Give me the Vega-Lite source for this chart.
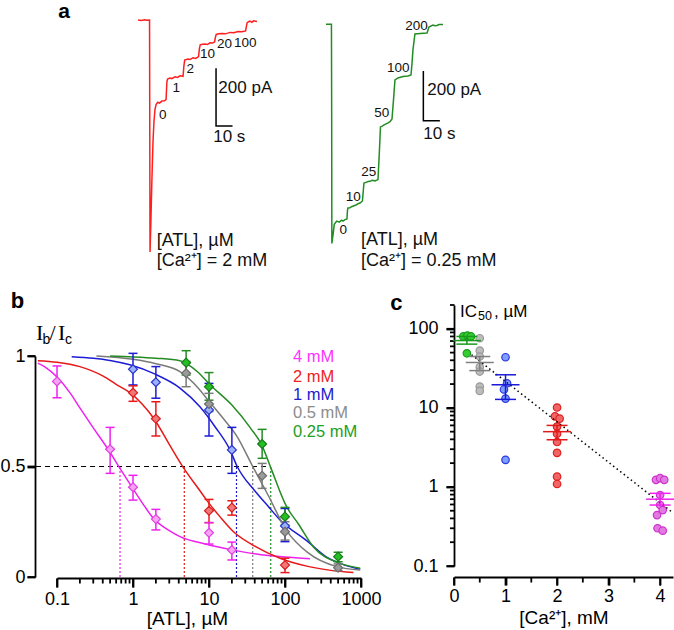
{
"$schema": "https://vega.github.io/schema/vega-lite/v6.json",
"width": 674, "height": 630, "padding": 0, "autosize": {"type": "none"},
"background": "white",
"config": {
  "view": {"stroke": null},
  "font": "Liberation Sans",
  "axis": {"grid": false, "ticks": true, "domainColor": "#000", "domainWidth": 1.8, "tickColor": "#000", "tickWidth": 1.8, "tickOpacity": 1, "labelColor": "#000", "labelFont": "Liberation Sans", "labelFontSize": 18, "titleFont": "Liberation Sans", "titleFontSize": 19, "titleFontWeight": "normal", "titleColor": "#000", "labelOverlap": false, "labelBound": false, "labelFlush": false},
  "text": {"font": "Liberation Sans", "color": "#111"}
},
"datasets": {
  "redTrace": [
    {"t":0,"I":0},{"t":2,"I":-2},{"t":4,"I":1},{"t":5.5,"I":-1},{"t":7,"I":0},{"t":7.3,"I":-804},{"t":7.8,"I":-700},{"t":8.4,"I":-560},{"t":9.1,"I":-420},{"t":9.7,"I":-350},{"t":10.3,"I":-310},{"t":11,"I":-292},{"t":12,"I":-285},{"t":13,"I":-288},{"t":14.5,"I":-281},{"t":16,"I":-280},{"t":17,"I":-276},{"t":17.5,"I":-215},{"t":17.9,"I":-205},{"t":19.4,"I":-201},{"t":20.5,"I":-203},{"t":22.4,"I":-197},{"t":24,"I":-199},{"t":25.5,"I":-193},{"t":27.3,"I":-195},{"t":27.8,"I":-160},{"t":28.3,"I":-139},{"t":30.3,"I":-135},{"t":31.5,"I":-137},{"t":33.3,"I":-131},{"t":35,"I":-133},{"t":36.7,"I":-127},{"t":37.2,"I":-100},{"t":37.7,"I":-86},{"t":39,"I":-84},{"t":40.6,"I":-83},{"t":42,"I":-85},{"t":43.6,"I":-79},{"t":45,"I":-80},{"t":46.4,"I":-76},{"t":46.9,"I":-60},{"t":47.4,"I":-50},{"t":49,"I":-48},{"t":50.9,"I":-47},{"t":53,"I":-48},{"t":55.8,"I":-43},{"t":58,"I":-44},{"t":60.6,"I":-40},{"t":63,"I":-41},{"t":65.2,"I":-38},{"t":65.7,"I":-22},{"t":66.1,"I":-10},{"t":67,"I":-6},{"t":67.9,"I":-4},{"t":69,"I":-8},{"t":70,"I":-3},{"t":72.1,"I":-5}
  ],
  "greenTrace": [
    {"t":0,"I":0},{"t":3.3,"I":0},{"t":3.45,"I":-400},{"t":3.55,"I":-882},{"t":4.3,"I":-845},{"t":5.0,"I":-805},{"t":6.5,"I":-792},{"t":8,"I":-796},{"t":9.5,"I":-788},{"t":10.3,"I":-792},{"t":11.5,"I":-786},{"t":12.7,"I":-783},{"t":13.0,"I":-750},{"t":13.3,"I":-739},{"t":14.5,"I":-738},{"t":15.8,"I":-733},{"t":17,"I":-730},{"t":18.2,"I":-727},{"t":19.4,"I":-722},{"t":20.6,"I":-719},{"t":22.1,"I":-711},{"t":22.6,"I":-670},{"t":23.0,"I":-639},{"t":24.2,"I":-636},{"t":25.5,"I":-633},{"t":26.7,"I":-632},{"t":27.9,"I":-628},{"t":29.7,"I":-630},{"t":31.5,"I":-625},{"t":32.0,"I":-560},{"t":32.4,"I":-506},{"t":33.0,"I":-413},{"t":34.1,"I":-410},{"t":35.2,"I":-405},{"t":36.4,"I":-401},{"t":37.6,"I":-397},{"t":38.8,"I":-392},{"t":40.0,"I":-381},{"t":40.9,"I":-305},{"t":41.8,"I":-224},{"t":43.6,"I":-216},{"t":45.1,"I":-213},{"t":46.7,"I":-210},{"t":48.2,"I":-209},{"t":49.7,"I":-208},{"t":51.5,"I":-204},{"t":52.1,"I":-160},{"t":52.7,"I":-103},{"t":53.9,"I":-39},{"t":55.5,"I":-38},{"t":57.0,"I":-37},{"t":59.1,"I":-36},{"t":61.2,"I":-35},{"t":62.4,"I":-11},{"t":64.8,"I":-3},{"t":66,"I":-6},{"t":67.3,"I":-5},{"t":68.5,"I":-1},{"t":70.9,"I":-1}
  ],
  "redBar": [{"t":47.3,"I":-167,"k":1},{"t":47.3,"I":-367,"k":2},{"t":57.3,"I":-367,"k":3}],
  "greenBar": [{"t":59.0,"I":-188,"k":1},{"t":59.0,"I":-388,"k":2},{"t":69.0,"I":-388,"k":3}],
  "redLabels": [{"t":15.0,"I":-328,"label":"0"},{"t":23.2,"I":-236,"label":"1"},{"t":31.7,"I":-171,"label":"2"},{"t":42.2,"I":-119,"label":"10"},{"t":52.4,"I":-82,"label":"20"},{"t":65.0,"I":-81,"label":"100"}],
  "greenLabels": [{"t":10.5,"I":-828,"label":"0"},{"t":16.5,"I":-696,"label":"10"},{"t":25.9,"I":-596,"label":"25"},{"t":33.8,"I":-358,"label":"50"},{"t":43.8,"I":-177,"label":"100"},{"t":54.9,"I":-7,"label":"200"}],
  "redScaleText": [{"t":48.7,"I":-237,"label":"200 pA"},{"t":45.6,"I":-404,"label":"10 s"}],
  "greenScaleText": [{"t":61.4,"I":-265,"label":"200 pA"},{"t":59.0,"I":-442,"label":"10 s"}],
  "redCondText": [{"t":11.3,"I":-765,"label":"[ATL], µM"},{"t":11.3,"I":-834,"label":"[Ca²⁺] = 2 mM"}],
  "greenCondText": [{"t":21.2,"I":-868,"label":"[ATL], µM"},{"t":21.2,"I":-952,"label":"[Ca²⁺] = 0.25 mM"}],
  "bxMajor": [{"v":0.1},{"v":1},{"v":10},{"v":100},{"v":1000}],
  "bxMinor": [{"v":0.2},{"v":0.3},{"v":0.4},{"v":0.5},{"v":0.6},{"v":0.7},{"v":0.8},{"v":0.9},{"v":2},{"v":3},{"v":4},{"v":5},{"v":6},{"v":7},{"v":8},{"v":9},{"v":20},{"v":30},{"v":40},{"v":50},{"v":60},{"v":70},{"v":80},{"v":90},{"v":200},{"v":300},{"v":400},{"v":500},{"v":600},{"v":700},{"v":800},{"v":900}],
  "byTicks": [{"v":0},{"v":0.5},{"v":1}],
  "cxMajor": [{"v":0},{"v":1},{"v":2},{"v":3},{"v":4}],
  "cxMinor": [{"v":0.5},{"v":1.5},{"v":2.5},{"v":3.5}],
  "cyMajor": [{"v":0.1},{"v":1},{"v":10},{"v":100}],
  "cyMinor": [{"v":0.2},{"v":0.3},{"v":0.4},{"v":0.5},{"v":0.6},{"v":0.7},{"v":0.8},{"v":0.9},{"v":2},{"v":3},{"v":4},{"v":5},{"v":6},{"v":7},{"v":8},{"v":9},{"v":20},{"v":30},{"v":40},{"v":50},{"v":60},{"v":70},{"v":80},{"v":90},{"v":200}],
  "bCurves": [
    {"series":"4 mM","x":0.056,"y":0.968},{"series":"4 mM","x":0.07,"y":0.95},{"series":"4 mM","x":0.1,"y":0.905},{"series":"4 mM","x":0.15,"y":0.831},{"series":"4 mM","x":0.2,"y":0.765},{"series":"4 mM","x":0.3,"y":0.675},{"series":"4 mM","x":0.47,"y":0.578},{"series":"4 mM","x":0.67,"y":0.493},{"series":"4 mM","x":0.96,"y":0.409},{"series":"4 mM","x":1.4,"y":0.323},{"series":"4 mM","x":1.89,"y":0.262},{"series":"4 mM","x":3,"y":0.21},{"series":"4 mM","x":4.15,"y":0.183},{"series":"4 mM","x":7,"y":0.158},{"series":"4 mM","x":10,"y":0.145},{"series":"4 mM","x":18.9,"y":0.125},{"series":"4 mM","x":40,"y":0.105},{"series":"4 mM","x":100,"y":0.09},{"series":"4 mM","x":213,"y":0.083},
    {"series":"2 mM","x":0.056,"y":0.979},{"series":"2 mM","x":0.1,"y":0.972},{"series":"2 mM","x":0.2,"y":0.952},{"series":"2 mM","x":0.4,"y":0.91},{"series":"2 mM","x":0.6,"y":0.872},{"series":"2 mM","x":0.91,"y":0.834},{"series":"2 mM","x":1.3,"y":0.785},{"series":"2 mM","x":1.89,"y":0.716},{"series":"2 mM","x":3,"y":0.6},{"series":"2 mM","x":4.6,"y":0.495},{"series":"2 mM","x":7.6,"y":0.39},{"series":"2 mM","x":9.3,"y":0.348},{"series":"2 mM","x":14,"y":0.272},{"series":"2 mM","x":21,"y":0.205},{"series":"2 mM","x":40,"y":0.14},{"series":"2 mM","x":86,"y":0.085},{"series":"2 mM","x":200,"y":0.048},{"series":"2 mM","x":400,"y":0.03},{"series":"2 mM","x":795,"y":0.02},
    {"series":"1 mM","x":0.156,"y":0.997},{"series":"1 mM","x":0.3,"y":0.99},{"series":"1 mM","x":0.5,"y":0.98},{"series":"1 mM","x":0.91,"y":0.96},{"series":"1 mM","x":1.89,"y":0.92},{"series":"1 mM","x":4.15,"y":0.855},{"series":"1 mM","x":7.6,"y":0.77},{"series":"1 mM","x":12,"y":0.68},{"series":"1 mM","x":18.9,"y":0.575},{"series":"1 mM","x":23.5,"y":0.5},{"series":"1 mM","x":40,"y":0.39},{"series":"1 mM","x":60,"y":0.32},{"series":"1 mM","x":86,"y":0.258},{"series":"1 mM","x":200,"y":0.16},{"series":"1 mM","x":353,"y":0.09},{"series":"1 mM","x":600,"y":0.055},{"series":"1 mM","x":977,"y":0.035},
    {"series":"0.5 mM","x":0.33,"y":1.0},{"series":"0.5 mM","x":1,"y":0.985},{"series":"0.5 mM","x":2,"y":0.965},{"series":"0.5 mM","x":4.15,"y":0.929},{"series":"0.5 mM","x":7,"y":0.86},{"series":"0.5 mM","x":10.3,"y":0.79},{"series":"0.5 mM","x":16,"y":0.71},{"series":"0.5 mM","x":23,"y":0.64},{"series":"0.5 mM","x":37.6,"y":0.5},{"series":"0.5 mM","x":60,"y":0.37},{"series":"0.5 mM","x":105,"y":0.21},{"series":"0.5 mM","x":200,"y":0.11},{"series":"0.5 mM","x":479,"y":0.047},{"series":"0.5 mM","x":977,"y":0.032},
    {"series":"0.25 mM","x":0.5,"y":1.0},{"series":"0.25 mM","x":1,"y":0.996},{"series":"0.25 mM","x":2,"y":0.99},{"series":"0.25 mM","x":4.15,"y":0.979},{"series":"0.25 mM","x":7,"y":0.93},{"series":"0.25 mM","x":10.3,"y":0.87},{"series":"0.25 mM","x":20,"y":0.778},{"series":"0.25 mM","x":35,"y":0.675},{"series":"0.25 mM","x":49,"y":0.6},{"series":"0.25 mM","x":64.9,"y":0.495},{"series":"0.25 mM","x":105,"y":0.318},{"series":"0.25 mM","x":150,"y":0.24},{"series":"0.25 mM","x":235,"y":0.137},{"series":"0.25 mM","x":500,"y":0.065},{"series":"0.25 mM","x":977,"y":0.04}
  ],
  "bIC50": [{"series":"4 mM","ic":0.675},{"series":"2 mM","ic":4.73},{"series":"1 mM","ic":23},{"series":"0.5 mM","ic":37.6},{"series":"0.25 mM","ic":64.9}],
  "bPoints": [
    {"series":"4 mM","x":0.1,"y":0.885,"lo":0.811,"hi":0.955},{"series":"4 mM","x":0.5,"y":0.578,"lo":0.469,"hi":0.677},{"series":"4 mM","x":1,"y":0.406,"lo":0.348,"hi":0.46},{"series":"4 mM","x":2,"y":0.262,"lo":0.213,"hi":0.306},{"series":"4 mM","x":10,"y":0.2,"lo":0.149,"hi":0.246},{"series":"4 mM","x":20,"y":0.122,"lo":0.077,"hi":0.158},
    {"series":"2 mM","x":1,"y":0.834,"lo":0.795,"hi":0.865},{"series":"2 mM","x":2,"y":0.716,"lo":0.638,"hi":0.793},{"series":"2 mM","x":10,"y":0.3,"lo":0.246,"hi":0.351},{"series":"2 mM","x":20,"y":0.314,"lo":0.28,"hi":0.345},{"series":"2 mM","x":100,"y":0.054,"lo":0.02,"hi":0.085},
    {"series":"1 mM","x":1,"y":0.94,"lo":0.869,"hi":1.012},{"series":"1 mM","x":2,"y":0.881,"lo":0.809,"hi":0.952},{"series":"1 mM","x":10,"y":0.756,"lo":0.638,"hi":0.876},{"series":"1 mM","x":20,"y":0.575,"lo":0.469,"hi":0.677},{"series":"1 mM","x":100,"y":0.231,"lo":0.16,"hi":0.31},
    {"series":"0.5 mM","x":5,"y":0.922,"lo":0.861,"hi":0.975},{"series":"0.5 mM","x":10,"y":0.783,"lo":0.748,"hi":0.831},{"series":"0.5 mM","x":50,"y":0.458,"lo":0.401,"hi":0.514},{"series":"0.5 mM","x":100,"y":0.205,"lo":0.167,"hi":0.25},{"series":"0.5 mM","x":500,"y":0.042,"lo":0.029,"hi":0.059},
    {"series":"0.25 mM","x":5,"y":0.97,"lo":0.914,"hi":1.024},{"series":"0.25 mM","x":10,"y":0.861,"lo":0.8,"hi":0.925},{"series":"0.25 mM","x":50,"y":0.602,"lo":0.537,"hi":0.668},{"series":"0.25 mM","x":100,"y":0.273,"lo":0.235,"hi":0.315},{"series":"0.25 mM","x":500,"y":0.092,"lo":0.069,"hi":0.112}
  ],
  "cPoints": [
    {"series":"0.25 mM","ca":0.18,"ic50":80},{"series":"0.25 mM","ca":0.26,"ic50":82},{"series":"0.25 mM","ca":0.33,"ic50":80},{"series":"0.25 mM","ca":0.25,"ic50":49},
    {"series":"0.5 mM","ca":0.5,"ic50":76},{"series":"0.5 mM","ca":0.5,"ic50":53},{"series":"0.5 mM","ca":0.5,"ic50":44.6},{"series":"0.5 mM","ca":0.5,"ic50":32.7},{"series":"0.5 mM","ca":0.5,"ic50":28.8},{"series":"0.5 mM","ca":0.5,"ic50":18.6},{"series":"0.5 mM","ca":0.5,"ic50":16.4},
    {"series":"1 mM","ca":1.0,"ic50":43.7},{"series":"1 mM","ca":1.03,"ic50":20.4},{"series":"1 mM","ca":0.97,"ic50":17.1},{"series":"1 mM","ca":1.0,"ic50":13.1},{"series":"1 mM","ca":1.0,"ic50":2.2},
    {"series":"2 mM","ca":2.0,"ic50":10.1},{"series":"2 mM","ca":1.96,"ic50":7.8},{"series":"2 mM","ca":2.05,"ic50":7.3},{"series":"2 mM","ca":2.0,"ic50":5.8},{"series":"2 mM","ca":2.0,"ic50":4.7},{"series":"2 mM","ca":2.0,"ic50":3.7},{"series":"2 mM","ca":2.0,"ic50":2.7},{"series":"2 mM","ca":2.0,"ic50":1.35},{"series":"2 mM","ca":2.0,"ic50":1.09},
    {"series":"4 mM","ca":3.92,"ic50":1.23},{"series":"4 mM","ca":4.0,"ic50":1.29},{"series":"4 mM","ca":4.08,"ic50":1.23},{"series":"4 mM","ca":4.0,"ic50":0.79},{"series":"4 mM","ca":4.0,"ic50":0.59},{"series":"4 mM","ca":3.94,"ic50":0.44},{"series":"4 mM","ca":4.05,"ic50":0.51},{"series":"4 mM","ca":3.95,"ic50":0.3},{"series":"4 mM","ca":4.05,"ic50":0.28}
  ],
  "cMeans": [
    {"series":"0.25 mM","ca":0.25,"mean":71,"lo":64,"hi":80},
    {"series":"0.5 mM","ca":0.5,"mean":37.5,"lo":29.6,"hi":44.6},
    {"series":"1 mM","ca":1,"mean":19.6,"lo":12.8,"hi":26.2},
    {"series":"2 mM","ca":2,"mean":5.0,"lo":3.95,"hi":6.0},
    {"series":"4 mM","ca":4,"mean":0.7,"lo":0.59,"hi":0.83}
  ],
  "cFit": [{"ca":0.34,"ic50":47},{"ca":4.25,"ic50":0.47}]
},
"layer": [
    {"data":{"name":"redTrace"},"mark":{"type":"line","color":"#ff1f1f","strokeWidth":1.5},
     "encoding":{"x":{"field":"t","type":"quantitative","scale":{"type":"linear","domain":[0,100],"range":[138,303],"nice":false,"zero":false},"axis":null},
                 "y":{"field":"I","type":"quantitative","scale":{"type":"linear","domain":[-1000,0],"range":[308.5,20],"nice":false,"zero":false},"axis":null}}},
    {"data":{"name":"redBar"},"mark":{"type":"line","color":"#000","strokeWidth":1.5},
     "encoding":{"x":{"field":"t","type":"quantitative","scale":{"type":"linear","domain":[0,100],"range":[138,303],"nice":false,"zero":false},"axis":null},
                 "y":{"field":"I","type":"quantitative","scale":{"type":"linear","domain":[-1000,0],"range":[308.5,20],"nice":false,"zero":false},"axis":null},
                 "order":{"field":"k","type":"quantitative"}}},
    {"data":{"name":"redLabels"},"mark":{"type":"text","fontSize":13.5,"align":"center","baseline":"middle"},
     "encoding":{"x":{"field":"t","type":"quantitative","scale":{"type":"linear","domain":[0,100],"range":[138,303],"nice":false,"zero":false},"axis":null},
                 "y":{"field":"I","type":"quantitative","scale":{"type":"linear","domain":[-1000,0],"range":[308.5,20],"nice":false,"zero":false},"axis":null},
                 "text":{"field":"label","type":"nominal"}}},
    {"data":{"name":"redScaleText"},"mark":{"type":"text","fontSize":17,"align":"left","baseline":"middle"},
     "encoding":{"x":{"field":"t","type":"quantitative","scale":{"type":"linear","domain":[0,100],"range":[138,303],"nice":false,"zero":false},"axis":null},
                 "y":{"field":"I","type":"quantitative","scale":{"type":"linear","domain":[-1000,0],"range":[308.5,20],"nice":false,"zero":false},"axis":null},
                 "text":{"field":"label","type":"nominal"}}},
    {"data":{"name":"redCondText"},"mark":{"type":"text","fontSize":18,"align":"left","baseline":"middle"},
     "encoding":{"x":{"field":"t","type":"quantitative","scale":{"type":"linear","domain":[0,100],"range":[138,303],"nice":false,"zero":false},"axis":null},
                 "y":{"field":"I","type":"quantitative","scale":{"type":"linear","domain":[-1000,0],"range":[308.5,20],"nice":false,"zero":false},"axis":null},
                 "text":{"field":"label","type":"nominal"}}},
    {"data":{"values":[{}]},"mark":{"type":"text","text":"a","fontSize":21,"fontWeight":"bold","align":"center","baseline":"middle","color":"#000"},
     "encoding":{"x":{"datum":-44.8,"type":"quantitative","scale":{"type":"linear","domain":[0,100],"range":[138,303],"nice":false,"zero":false},"axis":null},
                 "y":{"datum":26,"type":"quantitative","scale":{"type":"linear","domain":[-1000,0],"range":[308.5,20],"nice":false,"zero":false},"axis":null}}},
    {"data":{"name":"greenTrace"},"mark":{"type":"line","color":"#238c23","strokeWidth":1.5},
     "encoding":{"x":{"field":"t","type":"quantitative","scale":{"type":"linear","domain":[0,100],"range":[326,491],"nice":false,"zero":false},"axis":null},
                 "y":{"field":"I","type":"quantitative","scale":{"type":"linear","domain":[-1000,0],"range":[272.8,24.3],"nice":false,"zero":false},"axis":null}}},
    {"data":{"name":"greenBar"},"mark":{"type":"line","color":"#000","strokeWidth":1.5},
     "encoding":{"x":{"field":"t","type":"quantitative","scale":{"type":"linear","domain":[0,100],"range":[326,491],"nice":false,"zero":false},"axis":null},
                 "y":{"field":"I","type":"quantitative","scale":{"type":"linear","domain":[-1000,0],"range":[272.8,24.3],"nice":false,"zero":false},"axis":null},
                 "order":{"field":"k","type":"quantitative"}}},
    {"data":{"name":"greenLabels"},"mark":{"type":"text","fontSize":13.5,"align":"center","baseline":"middle"},
     "encoding":{"x":{"field":"t","type":"quantitative","scale":{"type":"linear","domain":[0,100],"range":[326,491],"nice":false,"zero":false},"axis":null},
                 "y":{"field":"I","type":"quantitative","scale":{"type":"linear","domain":[-1000,0],"range":[272.8,24.3],"nice":false,"zero":false},"axis":null},
                 "text":{"field":"label","type":"nominal"}}},
    {"data":{"name":"greenScaleText"},"mark":{"type":"text","fontSize":17,"align":"left","baseline":"middle"},
     "encoding":{"x":{"field":"t","type":"quantitative","scale":{"type":"linear","domain":[0,100],"range":[326,491],"nice":false,"zero":false},"axis":null},
                 "y":{"field":"I","type":"quantitative","scale":{"type":"linear","domain":[-1000,0],"range":[272.8,24.3],"nice":false,"zero":false},"axis":null},
                 "text":{"field":"label","type":"nominal"}}},
    {"data":{"name":"greenCondText"},"mark":{"type":"text","fontSize":18,"align":"left","baseline":"middle"},
     "encoding":{"x":{"field":"t","type":"quantitative","scale":{"type":"linear","domain":[0,100],"range":[326,491],"nice":false,"zero":false},"axis":null},
                 "y":{"field":"I","type":"quantitative","scale":{"type":"linear","domain":[-1000,0],"range":[272.8,24.3],"nice":false,"zero":false},"axis":null},
                 "text":{"field":"label","type":"nominal"}}},
    {"data":{"name":"bxMajor"},"mark":{"type":"rule","color":"#000","strokeWidth":1.8},
     "encoding":{"x":{"field":"v","type":"quantitative","scale":{"type":"log","domain":[0.1,1000],"range":[57,361],"nice":false},"axis":null},
                 "y":{"datum":-0.0068,"type":"quantitative","scale":{"type":"linear","domain":[0,1],"range":[577,356],"nice":false,"zero":false},"axis":null},
                 "y2":{"datum":-0.0475}}},
    {"data":{"name":"bxMinor"},"mark":{"type":"rule","color":"#000","strokeWidth":1.8},
     "encoding":{"x":{"field":"v","type":"quantitative","scale":{"type":"log","domain":[0.1,1000],"range":[57,361],"nice":false},"axis":null},
                 "y":{"datum":-0.0068,"type":"quantitative","scale":{"type":"linear","domain":[0,1],"range":[577,356],"nice":false,"zero":false},"axis":null},
                 "y2":{"datum":-0.0294}}},
    {"data":{"name":"byTicks"},"mark":{"type":"rule","color":"#000","strokeWidth":1.8},
     "encoding":{"y":{"field":"v","type":"quantitative","scale":{"type":"linear","domain":[0,1],"range":[577,356],"nice":false,"zero":false},"axis":null},
                 "x":{"datum":0.05214,"type":"quantitative","scale":{"type":"log","domain":[0.1,1000],"range":[57,361],"nice":false},"axis":null},
                 "x2":{"datum":0.04093}}},
    {"data":{"values":[{}]},"mark":{"type":"rule","color":"#000","strokeWidth":1.2,"strokeDash":[5,4]},
     "encoding":{"x":{"datum":0.053,"type":"quantitative","scale":{"type":"log","domain":[0.1,1000],"range":[57,361],"nice":false},"axis":null},
                 "x2":{"datum":64.9},
                 "y":{"datum":0.5,"type":"quantitative","scale":{"type":"linear","domain":[0,1],"range":[577,356],"nice":false,"zero":false},"axis":null}}},
    {"data":{"name":"bIC50"},"mark":{"type":"rule","strokeWidth":1.2,"strokeDash":[2,2]},
     "encoding":{"x":{"field":"ic","type":"quantitative","scale":{"type":"log","domain":[0.1,1000],"range":[57,361],"nice":false},"axis":null},
                 "y":{"datum":0,"type":"quantitative","scale":{"type":"linear","domain":[0,1],"range":[577,356],"nice":false,"zero":false},"axis":null},
                 "y2":{"datum":0.5},
                 "color":{"field":"series","type":"nominal","scale":{"domain":["4 mM","2 mM","1 mM","0.5 mM","0.25 mM"],"range":["#ee22ee","#e81818","#1c1cd6","#7a7a7a","#238c23"]},"legend":null}}},
    {"data":{"name":"bCurves"},"mark":{"type":"line","strokeWidth":1.5,"interpolate":"monotone"},
     "encoding":{"x":{"field":"x","type":"quantitative","scale":{"type":"log","domain":[0.1,1000],"range":[57,361],"nice":false},
                      "axis":{"orient":"bottom","offset":-52,"values":[0.1,1,10,100,1000],"format":"~g","tickSize":9,"labelPadding":3,"title":"[ATL], µM","titleX":187,"titlePadding":1}},
                 "y":{"field":"y","type":"quantitative","scale":{"type":"linear","domain":[0,1],"range":[577,356],"nice":false,"zero":false},
                      "axis":{"orient":"left","offset":-35,"values":[0,0.5,1],"format":"~g","tickSize":8,"labelPadding":2,"title":null}},
                 "color":{"field":"series","type":"nominal","scale":{"domain":["4 mM","2 mM","1 mM","0.5 mM","0.25 mM"],"range":["#ee22ee","#e81818","#1c1cd6","#7a7a7a","#238c23"]},"legend":null}}},
    {"data":{"name":"bPoints"},"mark":{"type":"rule","strokeWidth":1.5},
     "encoding":{"x":{"field":"x","type":"quantitative","scale":{"type":"log","domain":[0.1,1000],"range":[57,361],"nice":false},"axis":null},
                 "y":{"field":"lo","type":"quantitative","scale":{"type":"linear","domain":[0,1],"range":[577,356],"nice":false,"zero":false},"axis":null},
                 "y2":{"field":"hi"},
                 "color":{"field":"series","type":"nominal","scale":{"domain":["4 mM","2 mM","1 mM","0.5 mM","0.25 mM"],"range":["#ee22ee","#e81818","#1c1cd6","#7a7a7a","#238c23"]},"legend":null}}},
    {"data":{"name":"bPoints"},"mark":{"type":"tick","orient":"horizontal","size":9,"thickness":1.5,"opacity":1},
     "encoding":{"x":{"field":"x","type":"quantitative","scale":{"type":"log","domain":[0.1,1000],"range":[57,361],"nice":false},"axis":null},
                 "y":{"field":"lo","type":"quantitative","scale":{"type":"linear","domain":[0,1],"range":[577,356],"nice":false,"zero":false},"axis":null},
                 "color":{"field":"series","type":"nominal","scale":{"domain":["4 mM","2 mM","1 mM","0.5 mM","0.25 mM"],"range":["#ee22ee","#e81818","#1c1cd6","#7a7a7a","#238c23"]},"legend":null}}},
    {"data":{"name":"bPoints"},"mark":{"type":"tick","orient":"horizontal","size":9,"thickness":1.5,"opacity":1},
     "encoding":{"x":{"field":"x","type":"quantitative","scale":{"type":"log","domain":[0.1,1000],"range":[57,361],"nice":false},"axis":null},
                 "y":{"field":"hi","type":"quantitative","scale":{"type":"linear","domain":[0,1],"range":[577,356],"nice":false,"zero":false},"axis":null},
                 "color":{"field":"series","type":"nominal","scale":{"domain":["4 mM","2 mM","1 mM","0.5 mM","0.25 mM"],"range":["#ee22ee","#e81818","#1c1cd6","#7a7a7a","#238c23"]},"legend":null}}},
    {"data":{"name":"bPoints"},"mark":{"type":"point","shape":"diamond","filled":true,"size":80,"strokeWidth":1.2,"opacity":1},
     "encoding":{"x":{"field":"x","type":"quantitative","scale":{"type":"log","domain":[0.1,1000],"range":[57,361],"nice":false},"axis":null},
                 "y":{"field":"y","type":"quantitative","scale":{"type":"linear","domain":[0,1],"range":[577,356],"nice":false,"zero":false},"axis":null},
                 "fill":{"field":"series","type":"nominal","scale":{"domain":["4 mM","2 mM","1 mM","0.5 mM","0.25 mM"],"range":["#f7a3f3","#f27777","#9db2ff","#9a9a9a","#22c022"]},"legend":null},
                 "stroke":{"field":"series","type":"nominal","scale":{"domain":["4 mM","2 mM","1 mM","0.5 mM","0.25 mM"],"range":["#e040e0","#d81c1c","#2a36cc","#6e6e6e","#1a7a1a"]},"legend":null}}},
    {"data":{"values":[{}]},"mark":{"type":"text","text":"4 mM","fontSize":16.5,"align":"left","baseline":"middle","color":"#ff33ff"},
     "encoding":{"x":{"datum":127.4,"type":"quantitative","scale":{"type":"log","domain":[0.1,1000],"range":[57,361],"nice":false},"axis":null},
                 "y":{"datum":0.997,"type":"quantitative","scale":{"type":"linear","domain":[0,1],"range":[577,356],"nice":false,"zero":false},"axis":null}}},
    {"data":{"values":[{}]},"mark":{"type":"text","text":"2 mM","fontSize":16.5,"align":"left","baseline":"middle","color":"#ee2222"},
     "encoding":{"x":{"datum":127.4,"type":"quantitative","scale":{"type":"log","domain":[0.1,1000],"range":[57,361],"nice":false},"axis":null},
                 "y":{"datum":0.906,"type":"quantitative","scale":{"type":"linear","domain":[0,1],"range":[577,356],"nice":false,"zero":false},"axis":null}}},
    {"data":{"values":[{}]},"mark":{"type":"text","text":"1 mM","fontSize":16.5,"align":"left","baseline":"middle","color":"#2020cc"},
     "encoding":{"x":{"datum":127.4,"type":"quantitative","scale":{"type":"log","domain":[0.1,1000],"range":[57,361],"nice":false},"axis":null},
                 "y":{"datum":0.824,"type":"quantitative","scale":{"type":"linear","domain":[0,1],"range":[577,356],"nice":false,"zero":false},"axis":null}}},
    {"data":{"values":[{}]},"mark":{"type":"text","text":"0.5 mM","fontSize":16.5,"align":"left","baseline":"middle","color":"#8c8c8c"},
     "encoding":{"x":{"datum":127.4,"type":"quantitative","scale":{"type":"log","domain":[0.1,1000],"range":[57,361],"nice":false},"axis":null},
                 "y":{"datum":0.741,"type":"quantitative","scale":{"type":"linear","domain":[0,1],"range":[577,356],"nice":false,"zero":false},"axis":null}}},
    {"data":{"values":[{}]},"mark":{"type":"text","text":"0.25 mM","fontSize":16.5,"align":"left","baseline":"middle","color":"#22a022"},
     "encoding":{"x":{"datum":127.4,"type":"quantitative","scale":{"type":"log","domain":[0.1,1000],"range":[57,361],"nice":false},"axis":null},
                 "y":{"datum":0.657,"type":"quantitative","scale":{"type":"linear","domain":[0,1],"range":[577,356],"nice":false,"zero":false},"axis":null}}},
    {"data":{"values":[{}]},"mark":{"type":"text","text":"I","font":"Liberation Serif","fontSize":22,"align":"left","baseline":"alphabetic","color":"#000"},
     "encoding":{"x":{"datum":0.0529,"type":"quantitative","scale":{"type":"log","domain":[0.1,1000],"range":[57,361],"nice":false},"axis":null},
                 "y":{"datum":1.072,"type":"quantitative","scale":{"type":"linear","domain":[0,1],"range":[577,356],"nice":false,"zero":false},"axis":null}}},
    {"data":{"values":[{}]},"mark":{"type":"text","text":"b","font":"Liberation Sans","fontSize":14,"align":"left","baseline":"alphabetic","color":"#000"},
     "encoding":{"x":{"datum":0.0644,"type":"quantitative","scale":{"type":"log","domain":[0.1,1000],"range":[57,361],"nice":false},"axis":null},
                 "y":{"datum":1.054,"type":"quantitative","scale":{"type":"linear","domain":[0,1],"range":[577,356],"nice":false,"zero":false},"axis":null}}},
    {"data":{"values":[{}]},"mark":{"type":"text","text":"/","font":"Liberation Serif","fontSize":22,"align":"left","baseline":"alphabetic","color":"#000"},
     "encoding":{"x":{"datum":0.0796,"type":"quantitative","scale":{"type":"log","domain":[0.1,1000],"range":[57,361],"nice":false},"axis":null},
                 "y":{"datum":1.072,"type":"quantitative","scale":{"type":"linear","domain":[0,1],"range":[577,356],"nice":false,"zero":false},"axis":null}}},
    {"data":{"values":[{}]},"mark":{"type":"text","text":"I","font":"Liberation Serif","fontSize":22,"align":"left","baseline":"alphabetic","color":"#000"},
     "encoding":{"x":{"datum":0.103,"type":"quantitative","scale":{"type":"log","domain":[0.1,1000],"range":[57,361],"nice":false},"axis":null},
                 "y":{"datum":1.072,"type":"quantitative","scale":{"type":"linear","domain":[0,1],"range":[577,356],"nice":false,"zero":false},"axis":null}}},
    {"data":{"values":[{}]},"mark":{"type":"text","text":"c","font":"Liberation Sans","fontSize":14,"align":"left","baseline":"alphabetic","color":"#000"},
     "encoding":{"x":{"datum":0.127,"type":"quantitative","scale":{"type":"log","domain":[0.1,1000],"range":[57,361],"nice":false},"axis":null},
                 "y":{"datum":1.054,"type":"quantitative","scale":{"type":"linear","domain":[0,1],"range":[577,356],"nice":false,"zero":false},"axis":null}}},
    {"data":{"values":[{}]},"mark":{"type":"text","text":"b","fontSize":22,"fontWeight":"bold","align":"center","baseline":"middle","color":"#000"},
     "encoding":{"x":{"datum":0.0302,"type":"quantitative","scale":{"type":"log","domain":[0.1,1000],"range":[57,361],"nice":false},"axis":null},
                 "y":{"datum":1.249,"type":"quantitative","scale":{"type":"linear","domain":[0,1],"range":[577,356],"nice":false,"zero":false},"axis":null}}},
    {"data":{"name":"cxMajor"},"mark":{"type":"rule","color":"#000","strokeWidth":1.8},
     "encoding":{"x":{"field":"v","type":"quantitative","scale":{"type":"linear","domain":[0,4.25],"range":[454,673],"nice":false,"zero":false},"axis":null},
                 "y":{"datum":0.07153,"type":"quantitative","scale":{"type":"log","domain":[0.1,200],"range":[566,305],"nice":false},"axis":null},
                 "y2":{"datum":0.05664}}},
    {"data":{"name":"cxMinor"},"mark":{"type":"rule","color":"#000","strokeWidth":1.8},
     "encoding":{"x":{"field":"v","type":"quantitative","scale":{"type":"linear","domain":[0,4.25],"range":[454,673],"nice":false,"zero":false},"axis":null},
                 "y":{"datum":0.07153,"type":"quantitative","scale":{"type":"log","domain":[0.1,200],"range":[566,305],"nice":false},"axis":null},
                 "y2":{"datum":0.06181}}},
    {"data":{"name":"cyMajor"},"mark":{"type":"rule","color":"#000","strokeWidth":1.8},
     "encoding":{"y":{"field":"v","type":"quantitative","scale":{"type":"log","domain":[0.1,200],"range":[566,305],"nice":false},"axis":null},
                 "x":{"datum":0.0097,"type":"quantitative","scale":{"type":"linear","domain":[0,4.25],"range":[454,673],"nice":false,"zero":false},"axis":null},
                 "x2":{"datum":-0.1456}}},
    {"data":{"name":"cyMinor"},"mark":{"type":"rule","color":"#000","strokeWidth":1.8},
     "encoding":{"y":{"field":"v","type":"quantitative","scale":{"type":"log","domain":[0.1,200],"range":[566,305],"nice":false},"axis":null},
                 "x":{"datum":0.0097,"type":"quantitative","scale":{"type":"linear","domain":[0,4.25],"range":[454,673],"nice":false,"zero":false},"axis":null},
                 "x2":{"datum":-0.0777}}},
    {"data":{"name":"cPoints"},"mark":{"type":"point","shape":"circle","filled":true,"size":56,"strokeWidth":1.2,"opacity":1},
     "encoding":{"x":{"field":"ca","type":"quantitative","scale":{"type":"linear","domain":[0,4.25],"range":[454,673],"nice":false,"zero":false},
                      "axis":{"orient":"bottom","offset":-53,"values":[0,1,2,3,4],"format":"~g","tickSize":8,"labelPadding":2,"title":"[Ca²⁺], mM","titlePadding":3}},
                 "y":{"field":"ic50","type":"quantitative","scale":{"type":"log","domain":[0.1,200],"range":[566,305],"nice":false},
                      "axis":{"orient":"left","offset":-454,"values":[0.1,1,10,100],"format":"~g","tickSize":8,"labelPadding":8,"title":null}},
                 "fill":{"field":"series","type":"nominal","scale":{"domain":["4 mM","2 mM","1 mM","0.5 mM","0.25 mM"],"range":["#e27ae2","#f06666","#7f9cff","#bdbdbd","#33cc33"]},"legend":null},
                 "stroke":{"field":"series","type":"nominal","scale":{"domain":["4 mM","2 mM","1 mM","0.5 mM","0.25 mM"],"range":["#cc33cc","#e01e1e","#2a3ae0","#9a9a9a","#1a9a1a"]},"legend":null}}},
    {"data":{"name":"cFit"},"mark":{"type":"line","color":"#000","strokeWidth":1.5,"strokeDash":[1.5,3]},
     "encoding":{"x":{"field":"ca","type":"quantitative","scale":{"type":"linear","domain":[0,4.25],"range":[454,673],"nice":false,"zero":false},"axis":null},
                 "y":{"field":"ic50","type":"quantitative","scale":{"type":"log","domain":[0.1,200],"range":[566,305],"nice":false},"axis":null}}},
    {"data":{"name":"cMeans"},"mark":{"type":"rule","strokeWidth":1.5},
     "encoding":{"x":{"field":"ca","type":"quantitative","scale":{"type":"linear","domain":[0,4.25],"range":[454,673],"nice":false,"zero":false},"axis":null},
                 "y":{"field":"lo","type":"quantitative","scale":{"type":"log","domain":[0.1,200],"range":[566,305],"nice":false},"axis":null},
                 "y2":{"field":"hi"},
                 "color":{"field":"series","type":"nominal","scale":{"domain":["4 mM","2 mM","1 mM","0.5 mM","0.25 mM"],"range":["#ee22ee","#e01a1a","#1a1ad8","#808080","#1a9a1a"]},"legend":null}}},
    {"data":{"name":"cMeans"},"mark":{"type":"tick","orient":"horizontal","size":21,"thickness":1.5,"opacity":1},
     "encoding":{"x":{"field":"ca","type":"quantitative","scale":{"type":"linear","domain":[0,4.25],"range":[454,673],"nice":false,"zero":false},"axis":null},
                 "y":{"field":"lo","type":"quantitative","scale":{"type":"log","domain":[0.1,200],"range":[566,305],"nice":false},"axis":null},
                 "color":{"field":"series","type":"nominal","scale":{"domain":["4 mM","2 mM","1 mM","0.5 mM","0.25 mM"],"range":["#ee22ee","#e01a1a","#1a1ad8","#808080","#1a9a1a"]},"legend":null}}},
    {"data":{"name":"cMeans"},"mark":{"type":"tick","orient":"horizontal","size":21,"thickness":1.5,"opacity":1},
     "encoding":{"x":{"field":"ca","type":"quantitative","scale":{"type":"linear","domain":[0,4.25],"range":[454,673],"nice":false,"zero":false},"axis":null},
                 "y":{"field":"hi","type":"quantitative","scale":{"type":"log","domain":[0.1,200],"range":[566,305],"nice":false},"axis":null},
                 "color":{"field":"series","type":"nominal","scale":{"domain":["4 mM","2 mM","1 mM","0.5 mM","0.25 mM"],"range":["#ee22ee","#e01a1a","#1a1ad8","#808080","#1a9a1a"]},"legend":null}}},
    {"data":{"name":"cMeans"},"mark":{"type":"tick","orient":"horizontal","size":28,"thickness":1.5,"opacity":1},
     "encoding":{"x":{"field":"ca","type":"quantitative","scale":{"type":"linear","domain":[0,4.25],"range":[454,673],"nice":false,"zero":false},"axis":null},
                 "y":{"field":"mean","type":"quantitative","scale":{"type":"log","domain":[0.1,200],"range":[566,305],"nice":false},"axis":null},
                 "color":{"field":"series","type":"nominal","scale":{"domain":["4 mM","2 mM","1 mM","0.5 mM","0.25 mM"],"range":["#ee22ee","#e01a1a","#1a1ad8","#808080","#1a9a1a"]},"legend":null}}},
    {"data":{"values":[{}]},"mark":{"type":"text","text":"IC","fontSize":17,"align":"left","baseline":"alphabetic","color":"#000"},
     "encoding":{"x":{"datum":0.117,"type":"quantitative","scale":{"type":"linear","domain":[0,4.25],"range":[454,673],"nice":false,"zero":false},"axis":null},
                 "y":{"datum":142,"type":"quantitative","scale":{"type":"log","domain":[0.1,200],"range":[566,305],"nice":false},"axis":null}}},
    {"data":{"values":[{}]},"mark":{"type":"text","text":"50","fontSize":12.5,"align":"left","baseline":"alphabetic","color":"#000"},
     "encoding":{"x":{"datum":0.466,"type":"quantitative","scale":{"type":"linear","domain":[0,4.25],"range":[454,673],"nice":false,"zero":false},"axis":null},
                 "y":{"datum":128,"type":"quantitative","scale":{"type":"log","domain":[0.1,200],"range":[566,305],"nice":false},"axis":null}}},
    {"data":{"values":[{}]},"mark":{"type":"text","text":", µM","fontSize":17,"align":"left","baseline":"alphabetic","color":"#000"},
     "encoding":{"x":{"datum":0.777,"type":"quantitative","scale":{"type":"linear","domain":[0,4.25],"range":[454,673],"nice":false,"zero":false},"axis":null},
                 "y":{"datum":142,"type":"quantitative","scale":{"type":"log","domain":[0.1,200],"range":[566,305],"nice":false},"axis":null}}},
    {"data":{"values":[{}]},"mark":{"type":"text","text":"c","fontSize":22,"fontWeight":"bold","align":"center","baseline":"middle","color":"#000"},
     "encoding":{"x":{"datum":-1.117,"type":"quantitative","scale":{"type":"linear","domain":[0,4.25],"range":[454,673],"nice":false,"zero":false},"axis":null},
                 "y":{"datum":210,"type":"quantitative","scale":{"type":"log","domain":[0.1,200],"range":[566,305],"nice":false},"axis":null}}}
],
"resolve": {"scale": {"x": "independent", "y": "independent", "color": "independent", "fill": "independent", "stroke": "independent"},
            "axis": {"x": "independent", "y": "independent"}}
}
